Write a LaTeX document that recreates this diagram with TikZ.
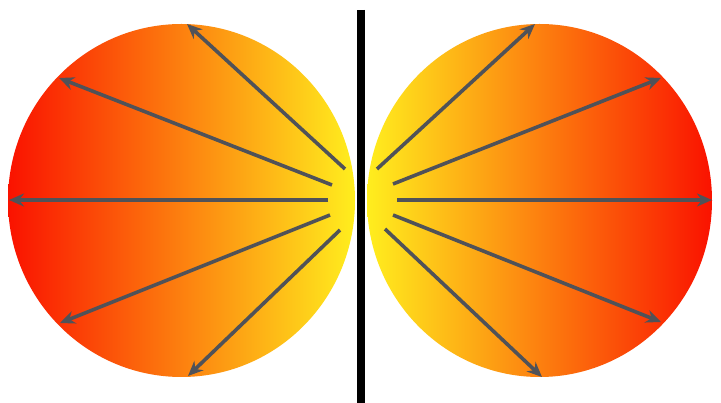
\documentclass[tikz,border=0pt]{standalone}
\usetikzlibrary{arrows.meta}
\definecolor{hot}{RGB}{250,18,0}
\definecolor{mid}{RGB}{252,140,20}
\definecolor{warm}{RGB}{255,238,30}
\definecolor{ray}{RGB}{80,82,88}
\begin{document}
\begin{tikzpicture}[x=1pt,y=-1pt,
  rayarrow/.style={draw=ray,line width=3.6pt,-{Stealth[length=15pt,width=13pt]}}]
\useasboundingbox (0,0) rectangle (721,403);
\fill[white] (0,0) rectangle (721,403);
% lobes
\shade[left color=hot,middle color=mid,right color=warm,draw=none]
  (181.5,200.5) ellipse [x radius=173.5,y radius=176.5];
\shade[left color=warm,middle color=mid,right color=hot,draw=none]
  (539.5,200.5) ellipse [x radius=172.5,y radius=176.5];
% dividing wall
\coordinate (wt) at (361,10);
\coordinate (wb) at (361,403);
\draw[line width=8pt,black] (wt) -- (wb);
% left start points
\coordinate (ls1) at (345,169);
\coordinate (ls2) at (332,185);
\coordinate (ls3) at (328,200);
\coordinate (ls4) at (330,215);
\coordinate (ls5) at (340,230);
% left tips
\coordinate (le1) at (187,24);
\coordinate (le2) at (59,78);
\coordinate (le3) at (9,200);
\coordinate (le4) at (60,323);
\coordinate (le5) at (188,376);
% right start points
\coordinate (rs1) at (377,169);
\coordinate (rs2) at (393,184);
\coordinate (rs3) at (397,200);
\coordinate (rs4) at (393,215);
\coordinate (rs5) at (385,229);
% right tips
\coordinate (re1) at (535,24);
\coordinate (re2) at (661,78);
\coordinate (re3) at (712,200);
\coordinate (re4) at (661,322);
\coordinate (re5) at (542,377);
\foreach \i in {1,...,5}{
  \draw[rayarrow] (ls\i) -- (le\i);
  \draw[rayarrow] (rs\i) -- (re\i);
}
\end{tikzpicture}
\end{document}
